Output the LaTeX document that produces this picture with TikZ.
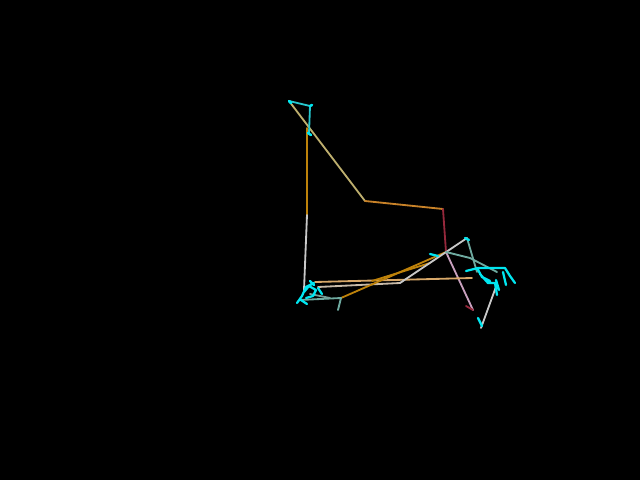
\documentclass[tikz,border=0pt]{standalone}
\begin{document}
\begin{tikzpicture}[x=0.025cm, y=-0.025cm, line join=round, line cap=round, line width=1.3pt]
				\definecolor{olivetan}{RGB}{190,175,110}
				\definecolor{rust}{RGB}{200,130,40}
				\definecolor{amber}{RGB}{190,130,10}
				\definecolor{mauve}{RGB}{200,160,190}
				\definecolor{wine}{RGB}{150,40,60}
				\definecolor{ash}{RGB}{200,200,200}
				\definecolor{sea}{RGB}{110,170,160}
				\definecolor{aqua}{RGB}{0,230,240}
				\fill[black] (0,0) rectangle (640,480);
				\useasboundingbox (0,0) rectangle (640,480);
				\path
				(289,101) coordinate (T)
				(310,106) coordinate (T1)
				(309,134) coordinate (T2)
				(365,201) coordinate (K)
				(443,209) coordinate (R)
				(446,252) coordinate (X)
				(473,310) coordinate (P)
				(307,128) coordinate (V)
				(307,215) coordinate (M)
				(304,290) coordinate (L)
				(467,238) coordinate (Q)
				(400,283) coordinate (Y)
				(341,298) coordinate (S)
				(497,284) coordinate (U)
				(481,328) coordinate (D);
				
				% long strokes
				\draw[olivetan] (T)--(K);
				\draw[rust] (K)--(R);
				\draw[wine] (R)--(X);
				\draw[mauve] (X)--(P);
				\draw[wine] (P)--(466,306);
				\draw[amber] (V)--(M);
				\draw[ash] (M)--(L);
				\draw[rust!70!white] (315,282)--(472,278);
				\draw[ash!80!rust] (318,287)--(Y);
				\draw[amber] (S)--(X);
				\draw[amber] (372,281)--(430,263);
				\draw[ash] (Y)--(Q);
				\draw[sea] (X)--(470,258)--(497,272);
				\draw[sea] (Q)--(477,272);
				\draw[ash] (U)--(D);
				\draw[sea] (300,300)--(S)--(338,310);
				\draw[sea!70!gray] (310,294)--(330,298);
				
				% small cyan pieces
				\draw[aqua!70!gray] (T)--(T1)--(T2);
				\draw[aqua, line width=1.8pt] (T1)--(312,105) (308,133)--(311,135) (T)--(291,103);
				\draw[aqua, line width=1.6pt] (314,283)--(306,287)--(302,296)--(297,303) (304,292)--(309,286)--(316,290)--(313,296)--(306,298)
				(301,300)--(307,304) (318,288)--(322,294) (310,281)--(314,285);
				\draw[aqua, line width=1.6pt] (430,254)--(438,256) (465,238)--(469,240)
				(466,271)--(478,268)--(505,268)--(510,276)--(515,283)
				(480,274)--(488,283)--(495,283)--(497,295) (503,272)--(506,285)
				(477,268)--(482,277)--(490,281) (478,318)--(482,326) (496,280)--(499,290);
\end{tikzpicture}
\end{document}
